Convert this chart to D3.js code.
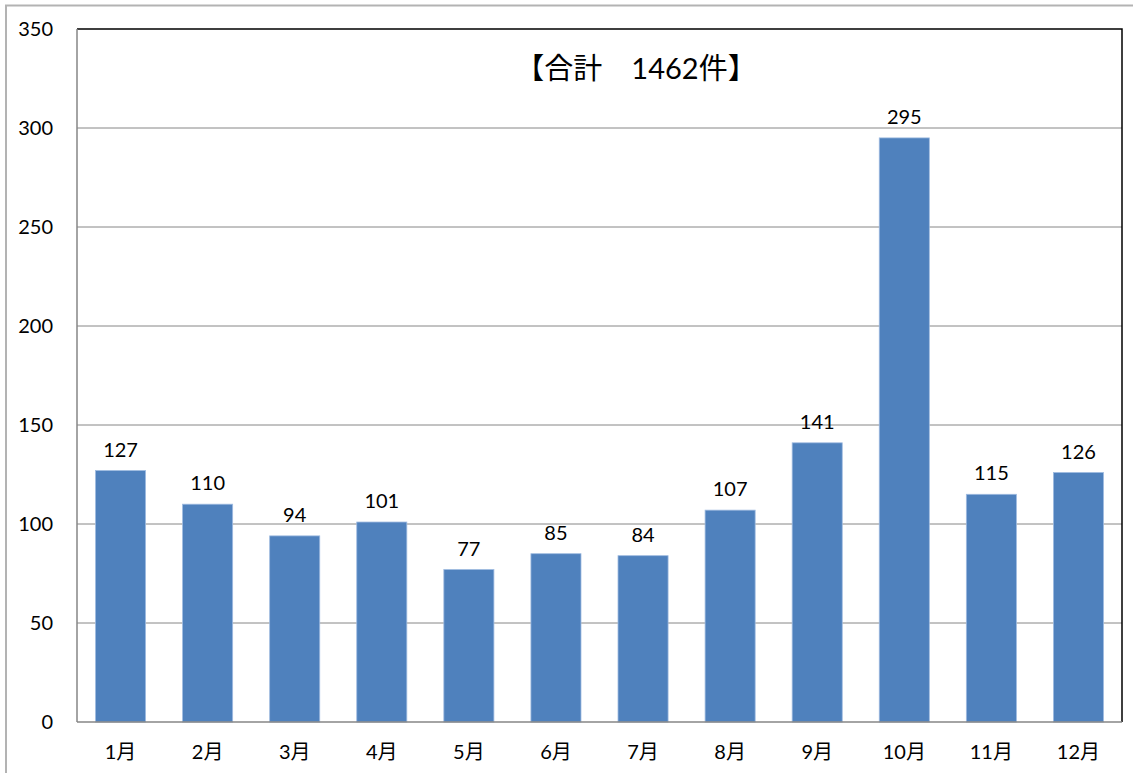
<!DOCTYPE html>
<html><head><meta charset="utf-8">
<script src="https://cdn.jsdelivr.net/npm/d3@7"></script>
<style>body{margin:0;background:#fff}svg{display:block}</style>
</head><body>
<svg id="c" width="1133" height="773"></svg>
<script>
const months = ["1月","2月","3月","4月","5月","6月","7月","8月","9月","10月","11月","12月"];
const counts = [127,110,94,101,77,85,84,107,141,295,115,126];
const yTicks = [0,50,100,150,200,250,300,350];
const title = "【合計　1462件】";

const svg = d3.select("#c");
const font = "Lato, 'Noto Sans CJK JP', sans-serif";
const L = 77, R = 1122, T = 29, B = 722;

svg.append("rect").attr("x",6).attr("y",5.5).attr("width",1140).attr("height",800)
  .attr("fill","none").attr("stroke","#b3b3b3").attr("stroke-width",2);

const x = d3.scaleBand().domain(months).range([L,R]).paddingInner(0.425).paddingOuter(0.2125);
const y = d3.scaleLinear().domain([0,350]).range([B,T]);

// grid
svg.append("g").selectAll("line").data(yTicks.filter(d=>d>0&&d<350)).join("line")
  .attr("x1",L).attr("x2",R).attr("y1",d=>y(d)).attr("y2",d=>y(d))
  .attr("stroke","#868686").attr("stroke-width",1);

// frame top/right
svg.append("path").attr("d",`M${L},${T}H${R}V${B}`).attr("fill","none").attr("stroke","#000").attr("stroke-width",1.5);

// bars
svg.append("g").selectAll("rect").data(counts).join("rect")
  .attr("x",(d,i)=>x(months[i])).attr("width",x.bandwidth())
  .attr("y",d=>y(d)).attr("height",d=>B-y(d))
  .attr("fill","#4F81BD").attr("stroke","#9fbbe0").attr("stroke-width",0.8);

// axes lines
svg.append("line").attr("x1",L).attr("x2",L).attr("y1",T).attr("y2",B).attr("stroke","#868686").attr("stroke-width",1.5);
svg.append("line").attr("x1",L).attr("x2",R).attr("y1",B).attr("y2",B).attr("stroke","#868686").attr("stroke-width",1.5);

// y labels
svg.append("g").selectAll("text").data(yTicks).join("text")
  .attr("x",53).attr("y",d=>y(d)).attr("dy","0.35em").attr("text-anchor","end")
  .attr("font-family",font).attr("font-size",20).attr("fill","#000").text(d=>d);

// x labels
svg.append("g").selectAll("text").data(months).join("text")
  .attr("x",d=>x(d)+x.bandwidth()/2).attr("y",752).attr("dy","0.35em").attr("text-anchor","middle")
  .attr("font-family",font).attr("font-size",20).attr("fill","#000").text(d=>d);

// data labels
svg.append("g").selectAll("text").data(counts).join("text")
  .attr("x",(d,i)=>x(months[i])+x.bandwidth()/2).attr("y",d=>y(d)-21).attr("dy","0.35em").attr("text-anchor","middle")
  .attr("font-family",font).attr("font-size",20).attr("fill","#000").text(d=>d);

svg.append("text").attr("x",636).attr("y",69).attr("dy","0.35em").attr("text-anchor","middle")
  .attr("font-family",font).attr("font-size",29).attr("fill","#000").text(title);
</script>
</body></html>
